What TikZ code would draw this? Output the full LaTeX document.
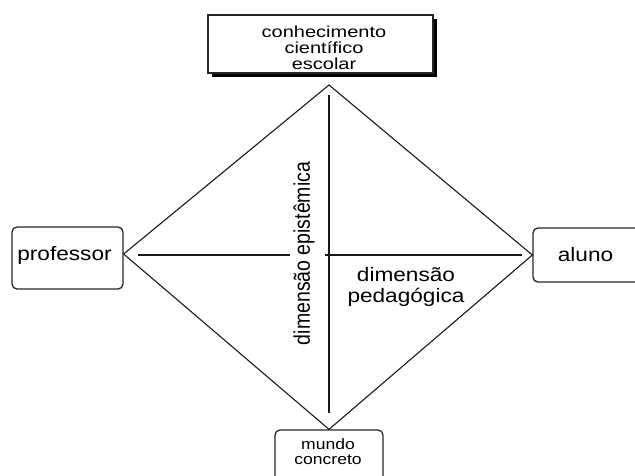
\documentclass[tikz,border=0pt]{standalone}
\usepackage{graphicx}
\usepackage{fontspec}
\setmainfont{Liberation Sans}
\usetikzlibrary{shadows}
\newcommand\hstr[1]{\scalebox{1.16}[1]{#1}}
\begin{document}
\begin{tikzpicture}[x=1pt,y=-1pt,
  conn/.style={line width=1.1pt, black!90},
  boxline/.style={draw=black!85, line width=1.3pt, inner sep=0pt},
  rbox/.style={boxline, rounded corners=5pt},
  lbl/.style={inner sep=0pt, align=center, font=\fontsize{19.5}{21}\selectfont},
  small/.style={inner sep=0pt, align=center}]
\useasboundingbox (0,0) rectangle (635,475);

% boxes
\node[boxline, fill=white, minimum width=225pt, minimum height=58pt,
      drop shadow={shadow xshift=4pt, shadow yshift=-4pt, opacity=1, fill=black}]
      (top) at (320.5,44) {};
\node[rbox, minimum width=111pt, minimum height=62pt] (prof) at (67.5,258) {};
\node[rbox, minimum width=115pt, minimum height=54pt] (aluno) at (590.5,255) {};
\node[rbox, minimum width=108pt, minimum height=56pt] (mundo) at (329,458) {};

% texts
\node[small, font=\fontsize{16}{16}\selectfont] (ttop) at (324,48)
  {\scalebox{1.25}[1]{conhecimento}\\\scalebox{1.25}[1]{científico}\\\scalebox{1.25}[1]{escolar}};
\node[lbl] (tprof) at (64.5,255) {\hstr{professor}};
\node[lbl] (taluno) at (585.5,255) {\hstr{aluno}};
\node[small, font=\fontsize{15}{15}\selectfont] (tmundo) at (328,452)
  {\scalebox{1.17}[1]{mundo}\\\scalebox{1.17}[1]{concreto}};
\node[lbl] (ped) at (406,287) {\hstr{dimensão}\\\hstr{pedagógica}};
\node[lbl, rotate=90] (epi) at (304,253.5) {\scalebox{1}[1.16]{dimensão epistêmica}};

% diamond
\coordinate (vt) at (329,85);
\coordinate (vl) at (prof.east |- 0,254);
\draw[conn, line join=miter] (vt) -- (vl) -- (mundo.north) -- (aluno.west) -- cycle;

% axes
\coordinate (h1) at (138,255);
\coordinate (h2) at (290,255);
\coordinate (h3) at (325,255);
\coordinate (h4) at (522,255);
\coordinate (v1) at (329,95);
\coordinate (v2) at (329,413);
\draw[conn] (h1) -- (h2);
\draw[conn] (h3) -- (h4);
\draw[conn] (v1) -- (v2);
\end{tikzpicture}
\end{document}
